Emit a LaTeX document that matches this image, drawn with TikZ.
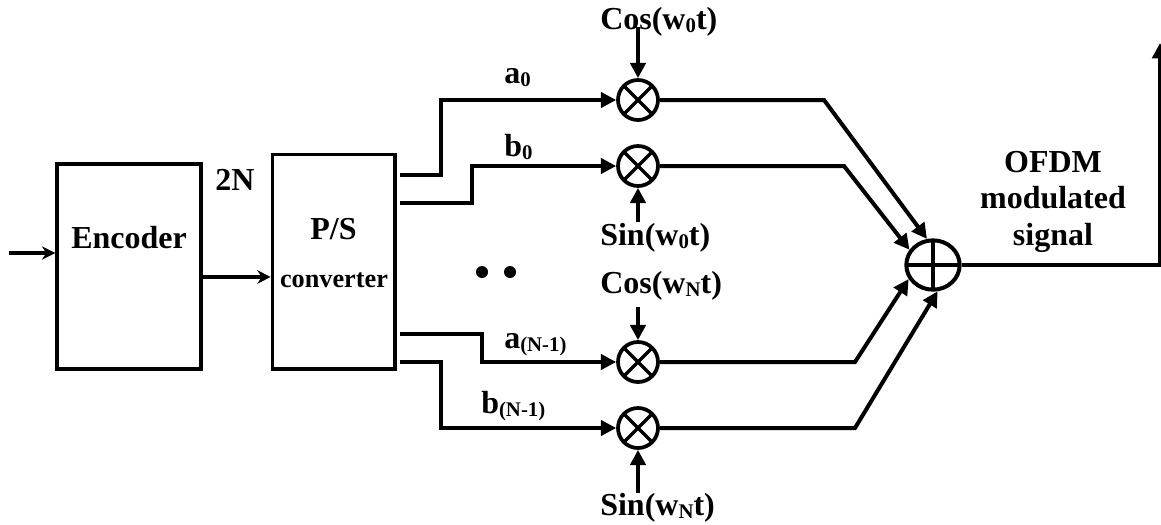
\documentclass[tikz,border=0pt]{standalone}
\usepackage{fontspec}
\setmainfont{Liberation Serif}
\usetikzlibrary{arrows.meta,shapes.geometric}
\newcommand{\lowtext}[1]{\raisebox{-2.5pt}{\fontsize{15.6}{18}\selectfont #1}}
\tikzset{
  wire/.style={line width=2.6pt,line join=miter},
  feed/.style={wire,-{Triangle[length=11.5pt,width=11.5pt]}},
  thick feed/.style={line width=3pt,-{Triangle[length=11.5pt,width=11.5pt]}},
  entry/.style={line width=3pt,-{Stealth[length=10pt,width=10pt]}},
  blockbox/.style={draw,line width=2.7pt,inner sep=0pt,anchor=north west},
  mixer/.style={draw,circle,line width=2.8pt,inner sep=0pt,minimum size=30pt,
    path picture={
      \draw[line width=2.4pt] (path picture bounding box.north west)--(path picture bounding box.south east)
        (path picture bounding box.north east)--(path picture bounding box.south west);}},
  summer/.style={draw,ellipse,line width=3pt,inner sep=0pt,minimum width=40pt,minimum height=37pt,
    path picture={
      \draw[line width=2.4pt] (path picture bounding box.north)--(path picture bounding box.south)
        (path picture bounding box.east)--(path picture bounding box.west);}},
  lbl/.style={inner sep=0pt,anchor=base west,font=\fontsize{24}{28}\selectfont\bfseries},
  lblc/.style={lbl,anchor=base},
  dotmark/.style={fill,circle,inner sep=0pt,minimum size=9pt}
}
\begin{document}
\begin{tikzpicture}[x=0.75pt,y=-0.75pt]
\useasboundingbox (0,0) rectangle (1161,525);
% blocks
\node[blockbox,minimum width=107.9pt,minimum height=153.9pt] (enc) at (55.3,162) {};
\node[blockbox,minimum width=92pt,minimum height=160.8pt] (ps) at (270.7,152.7) {};
\node[lbl] (encl) at (71,248) {Encoder};
\node[lblc] (psl) at (333.5,239) {P/S};
\node[lblc,font=\fontsize{19.7}{22}\selectfont\bfseries] (cvl) at (334,287) {converter};
\node[lbl] (twon) at (215,190) {2N};
% mixers
\node[mixer] (m1) at (638,100) {};
\node[mixer] (m2) at (638,166) {};
\node[mixer] (m3) at (638,362) {};
\node[mixer] (m4) at (638,428) {};
\node[summer] (sum) at (933,265) {};
% dots
\node[dotmark] (d1) at (482,272) {};
\node[dotmark] (d2) at (510,272) {};
% labels
\node[lbl] (a0) at (504,83) {a\lowtext{0}};
\node[lbl] (b0) at (504,156) {b\lowtext{0}};
\node[lbl] (aN) at (504,348) {a\lowtext{(N-1)}};
\node[lbl] (bN) at (481,413) {b\lowtext{(N-1)}};
\node[lbl] (c0) at (600,29) {Cos(w\lowtext{0}t)};
\node[lbl] (s0) at (600,245) {Sin(w\lowtext{0}t)};
\node[lbl] (cN) at (600,293) {Cos(w\lowtext{N}t)};
\node[lbl] (sN) at (600,515) {Sin(w\lowtext{N}t)};
\node[lblc] (o1) at (1053,172) {OFDM};
\node[lblc] (o2) at (1053,208) {modulated};
\node[lblc] (o3) at (1053,245) {signal};
% free ends
\coordinate (in) at (9,253);
\coordinate (encin) at (55.3,253);
\coordinate (encout) at (202.7,277);
\coordinate (psin) at (270.7,277);
\coordinate (p1) at (400,175);
\coordinate (p2) at (400,203);
\coordinate (p3) at (400,334);
\coordinate (p4) at (400,362);
\coordinate (k1) at (824,100);
\coordinate (k2) at (844,166);
\coordinate (k3) at (855,362);
\coordinate (k4) at (855,428);
\coordinate (c0s) at (638,27);
\coordinate (s0s) at (638,222);
\coordinate (cNs) at (638,307);
\coordinate (sNs) at (638,493);
\coordinate (corner) at (1160,265);
\coordinate (outp) at (1160,43);
% connectors
\draw[entry] (in) -- (encin);
\draw[entry] (encout) -- (psin);
\draw[feed] (p1) -- (441,175) -- (441,100) -- (m1.west);
\draw[feed] (p2) -- (472,203) -- (472,166) -- (m2.west);
\draw[feed] (p3) -- (482,334) -- (482,362) -- (m3.west);
\draw[feed] (p4) -- (441,362) -- (441,428) -- (m4.west);
\draw[thick feed] (c0s) -- (m1.north);
\draw[thick feed] (s0s) -- (m2.south);
\draw[thick feed] (cNs) -- (m3.north);
\draw[thick feed] (sNs) -- (m4.south);
\draw[thick feed] (m1.east) -- (k1) -- (sum.103);
\draw[thick feed] (m2.east) -- (k2) -- (sum.147);
\draw[thick feed] (m3.east) -- (k3) -- (sum.210);
\draw[thick feed] (m4.east) -- (k4) -- (sum.280);
\draw[thick feed] (sum.east) -- (corner) -- (outp);
\end{tikzpicture}
\end{document}
